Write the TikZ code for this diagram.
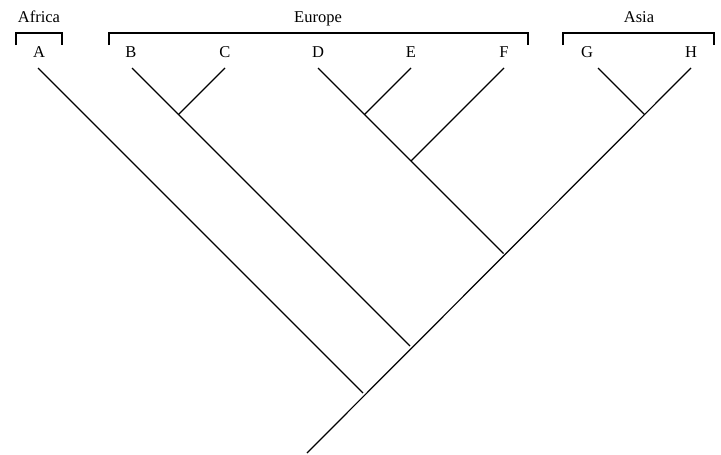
\documentclass[tikz,border=0pt]{standalone}
\usepackage{fontspec}
\setmainfont{Liberation Serif}
\begin{document}
\begin{tikzpicture}[x=1pt,y=-1pt,
  branch/.style={line width=1.2pt},
  leaf/.style={font=\fontsize{16.5}{18}\selectfont, inner sep=0pt, anchor=base},
  grp/.style={font=\fontsize{16.5}{18}\selectfont, inner sep=0pt, anchor=base},
  bracket/.style={line width=1.1pt}]
\useasboundingbox (0,0) rectangle (721,455);
% group labels
\node[grp] (africa) at (39,22) {Africa};
\node[grp] (europe) at (318,22) {Europe};
\node[grp] (asia) at (639,22) {Asia};
% brackets
\draw[bracket] (16,45) -- (16,33) -- (62,33) -- (62,45);
\draw[bracket] (109,45) -- (109,33) -- (528,33) -- (528,45);
\draw[bracket] (563,45) -- (563,33) -- (714,33) -- (714,45);
% leaf labels
\node[leaf] (A) at (39,57) {A};
\node[leaf] (B) at (131,57) {B};
\node[leaf] (C) at (225,57) {C};
\node[leaf] (D) at (318,57) {D};
\node[leaf] (E) at (411,57) {E};
\node[leaf] (F) at (504,57) {F};
\node[leaf] (G) at (587,57) {G};
\node[leaf] (H) at (691,57) {H};
% tips
\coordinate (tA) at (38,68);
\coordinate (tB) at (132,68);
\coordinate (tC) at (225,68);
\coordinate (tD) at (318,68);
\coordinate (tE) at (411,68);
\coordinate (tF) at (504,68);
\coordinate (tG) at (598,68);
\coordinate (tH) at (691,68);
% junctions
\coordinate (jBC) at (178.5,114.5);
\coordinate (jDE) at (364.5,114.5);
\coordinate (jDEF) at (411,161);
\coordinate (jGH) at (644.5,114.5);
\coordinate (jA) at (363,393);
\coordinate (jBCr) at (410,346);
\coordinate (jDEFr) at (503.5,253.5);
\coordinate (root) at (307,453);
% branches
\draw[branch] (tA) -- (jA);
\draw[branch] (tB) -- (jBCr);
\draw[branch] (tC) -- (jBC);
\draw[branch] (tD) -- (jDEFr);
\draw[branch] (tE) -- (jDE);
\draw[branch] (tF) -- (jDEF);
\draw[branch] (tG) -- (jGH);
\draw[branch] (root) -- (tH);
\end{tikzpicture}
\end{document}
